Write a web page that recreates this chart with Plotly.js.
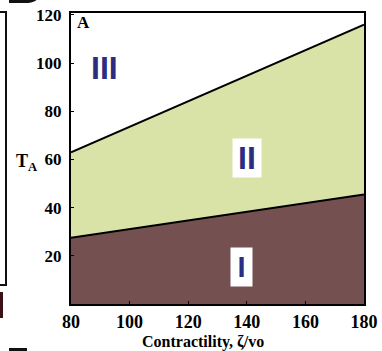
<!DOCTYPE html>
<html><head><meta charset="utf-8">
<script src="https://cdn.plot.ly/plotly-3.0.1.min.js"></script>
<style>html,body{margin:0;padding:0;background:#fff}</style>
</head><body><div id="chart" style="width:382px;height:351px"></div>
<script>
// Data
const contractility = [80, 180];
const boundaryLower = [27.5, 45.5];   // I / II boundary
const boundaryUpper = [63, 116];      // II / III boundary
const xTicks = [80, 100, 120, 140, 160, 180];
const yTicks = [20, 40, 60, 80, 100, 120];
const regionLabels = ['III', 'II', 'I'];
const regionX = [91.5, 140, 138.3];
const regionY = [98, 60.5, 15.5];

const L = 71, R = 364, T = 13, B = 304, W = 382, H = 351;
const px = v => (v - L) / (R - L);
const py = v => (B - v) / (B - T);

const serif = "'Liberation Serif', 'Times New Roman', serif";
const sans = "'Liberation Sans', Arial, sans-serif";
const navy = '#2b2e80';

const traces = [
  {x: contractility, y: boundaryLower, type: 'scatter', mode: 'lines', fill: 'tozeroy',
   fillcolor: '#745050', line: {color: '#000', width: 2}, hoverinfo: 'skip'},
  {x: contractility, y: boundaryUpper, type: 'scatter', mode: 'lines', fill: 'tonexty',
   fillcolor: '#d9e3a7', line: {color: '#000', width: 2}, hoverinfo: 'skip'}
];

const annotations = [
  {x: regionX[0], y: regionY[0], text: '<b>' + regionLabels[0] + '</b>', showarrow: false,
   font: {family: sans, size: 32, color: navy}},
  {x: regionX[1], y: regionY[1], text: '<b>' + regionLabels[1] + '</b>', showarrow: false, bgcolor: '#fff',
   width: 26, height: 36,
   font: {family: sans, size: 32, color: navy}},
  {x: regionX[2], y: regionY[2], text: '<b>' + regionLabels[2] + '</b>', showarrow: false, bgcolor: '#fff',
   width: 19, height: 36,
   font: {family: sans, size: 29, color: navy}},
  {xref: 'paper', yref: 'paper', x: px(75), y: py(22), xanchor: 'left', yanchor: 'middle',
   text: '<b>A</b>', showarrow: false, font: {family: serif, size: 17, color: '#000'}},
  {xref: 'paper', yref: 'paper', x: px(27), y: py(162), xanchor: 'center', yanchor: 'middle',
   text: '<b>T<sub>A</sub></b>', showarrow: false, font: {family: serif, size: 18, color: '#000'}},
  {xref: 'paper', yref: 'paper', x: px(203), y: py(331), xanchor: 'center', yanchor: 'top',
   text: '<b>Contractility, ζ/vo</b>', showarrow: false, font: {family: serif, size: 16, color: '#000'}}
];

const shapes = [
  {type: 'rect', xref: 'paper', yref: 'paper', x0: px(-3), x1: px(6), y0: py(12), y1: py(285),
   line: {color: '#111', width: 2}, fillcolor: 'rgba(0,0,0,0)', layer: 'above'},
  {type: 'rect', xref: 'paper', yref: 'paper', x0: px(-2), x1: px(3), y0: py(292), y1: py(318),
   line: {width: 0}, fillcolor: '#3a1216', layer: 'above'},
  {type: 'path', xref: 'paper', yref: 'paper', layer: 'above',
   path: `M ${px(9)} ${py(-1)} L ${px(9)} ${py(3)} L ${px(28)} ${py(3)} Q ${px(36)} ${py(2)} ${px(37)} ${py(-1)} Z`,
   fillcolor: '#111', line: {width: 0}},
  {type: 'rect', xref: 'paper', yref: 'paper', x0: px(9), x1: px(27), y0: py(348), y1: py(353),
   line: {width: 0}, fillcolor: '#111', layer: 'above'}
];

const layout = {
  width: W, height: H,
  margin: {l: L, r: W - R, t: T, b: H - B, pad: 0},
  paper_bgcolor: '#fff', plot_bgcolor: '#fff',
  showlegend: false,
  xaxis: {range: [80, 180], tickvals: xTicks, ticktext: xTicks.map(v => '<b>' + v + '</b>'),
    showgrid: false, zeroline: false, showline: true, mirror: true, linecolor: '#000', linewidth: 2,
    ticks: 'inside', ticklen: 3, tickcolor: '#000',
    tickfont: {family: serif, size: 18, color: '#000'}},
  yaxis: {range: [0, 120.8], tickvals: yTicks, ticktext: yTicks.map(v => '<b>' + v + '</b>'),
    showgrid: false, zeroline: false, showline: true, mirror: true, linecolor: '#000', linewidth: 2,
    ticks: 'inside', ticklen: 3, tickcolor: '#000', ticklabelstandoff: 4,
    tickfont: {family: serif, size: 17, color: '#000'}},
  annotations: annotations,
  shapes: shapes
};

Plotly.newPlot('chart', traces, layout, {displayModeBar: false, staticPlot: true});
</script></body></html>
